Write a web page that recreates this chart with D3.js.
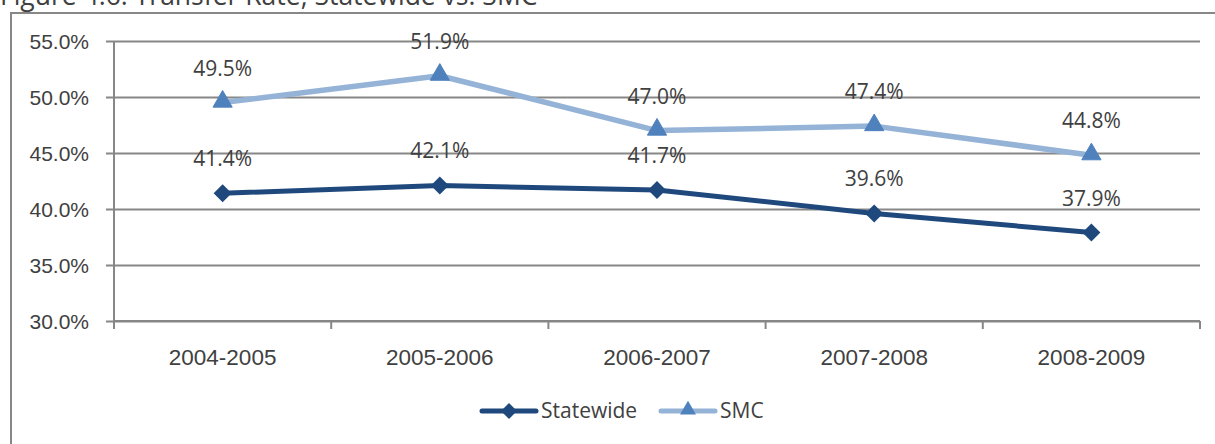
<!DOCTYPE html>
<html>
<head>
<meta charset="utf-8">
<script src="https://cdn.jsdelivr.net/npm/d3@7"></script>
<style>
  html, body { margin: 0; padding: 0; background: #fff; }
  svg { display: block; font-family: "Open Sans", "Noto Sans", sans-serif; }
  text { fill: #404040; }
</style>
</head>
<body>
<svg id="chart" width="1215" height="444"></svg>
<script>
// Transfer rate by academic year
const years = ["2004-2005", "2005-2006", "2006-2007", "2007-2008", "2008-2009"];
const statewide = [41.4, 42.1, 41.7, 39.6, 37.9];
const smc = [49.5, 51.9, 47.0, 47.4, 44.8];
const yTicks = [30, 35, 40, 45, 50, 55];
const titleText = "Figure 4.6: Transfer Rate, Statewide vs. SMC";

const svg = d3.select("#chart");
const W = 1215, H = 444;
const plot = { left: 114, right: 1200, top: 41, bottom: 321 };

const x = d3.scaleBand().domain(years).range([plot.left, plot.right]);
const y = d3.scaleLinear().domain([30, 55]).range([plot.bottom, plot.top]);
const cx = d => x(d) + x.bandwidth() / 2;

const gridColor = "#878787";
const darkBlue = "#1f497d";
const lightLine = "#95b3d7";
const triFill = "#4f81bd";
const fontSize = 21;

// Title (sits partly above the frame)
svg.append("text")
  .attr("x", 0).attr("y", 5)
  .attr("font-size", 26.5)
  .text(titleText);

// Chart frame
svg.append("path")
  .attr("d", `M11,${H} V13 H${W}`)
  .attr("fill", "none")
  .attr("stroke", gridColor)
  .attr("stroke-width", 2);

// Horizontal gridlines with outer tick marks and labels
const yAxis = d3.axisLeft(y)
  .tickValues(yTicks)
  .tickSize(-(plot.right - plot.left) - 8)
  .tickFormat(d => d3.format(".1f")(d) + "%");

const gy = svg.append("g")
  .attr("transform", `translate(${plot.left - 8},0)`)
  .call(yAxis);
gy.select(".domain").remove();
gy.selectAll(".tick line")
  .attr("x1", 0)
  .attr("x2", plot.right - plot.left + 8)
  .attr("stroke", gridColor)
  .attr("stroke-width", 2);
gy.selectAll(".tick text")
  .attr("x", -17)
  .attr("dy", "0.35em")
  .attr("font-size", fontSize)
  .attr("fill", "#404040");

// Vertical value axis line
svg.append("line")
  .attr("x1", plot.left).attr("x2", plot.left)
  .attr("y1", plot.top).attr("y2", plot.bottom + 8)
  .attr("stroke", gridColor).attr("stroke-width", 2);

// Category axis with boundary ticks
const xAxis = d3.axisBottom(x).tickSize(0).tickPadding(0);
const gx = svg.append("g")
  .attr("transform", `translate(0,${plot.bottom})`)
  .call(xAxis);
gx.select(".domain").remove();
gx.selectAll(".tick text")
  .attr("y", 44)
  .attr("dy", 0)
  .attr("font-size", 22.5)
  .attr("fill", "#404040");

const bounds = years.map(d => x(d)).concat([x(years[years.length - 1]) + x.bandwidth()]);
svg.append("g").selectAll("line")
  .data(bounds)
  .join("line")
  .attr("x1", d => d).attr("x2", d => d)
  .attr("y1", plot.bottom).attr("y2", plot.bottom + 8)
  .attr("stroke", gridColor).attr("stroke-width", 2);
svg.append("line")
  .attr("x1", plot.left).attr("x2", plot.right)
  .attr("y1", plot.bottom).attr("y2", plot.bottom)
  .attr("stroke", gridColor).attr("stroke-width", 2);

// Series lines
const line = d3.line()
  .x((d, i) => cx(years[i]))
  .y(d => y(d));

svg.append("path")
  .datum(smc)
  .attr("d", line)
  .attr("fill", "none")
  .attr("stroke", lightLine)
  .attr("stroke-width", 5.5)
  .attr("stroke-linejoin", "round")
  .attr("stroke-linecap", "round");

svg.append("path")
  .datum(statewide)
  .attr("d", line)
  .attr("fill", "none")
  .attr("stroke", darkBlue)
  .attr("stroke-width", 5)
  .attr("stroke-linejoin", "round")
  .attr("stroke-linecap", "round");

// Markers
const triangle = d3.symbol().type(d3.symbolTriangle).size(160);
const diamond = "M0,-9 L9,0 L0,9 L-9,0 Z";

svg.append("g").selectAll("path")
  .data(smc)
  .join("path")
  .attr("transform", (d, i) => `translate(${cx(years[i])},${y(d) - 1})`)
  .attr("d", triangle)
  .attr("fill", triFill)
  .attr("stroke", triFill)
  .attr("stroke-width", 1);

svg.append("g").selectAll("path")
  .data(statewide)
  .join("path")
  .attr("transform", (d, i) => `translate(${cx(years[i])},${y(d)})`)
  .attr("d", diamond)
  .attr("fill", darkBlue);

// Data labels
const fmt = d => d3.format(".1f")(d) + "%";
[smc, statewide].forEach(series => {
  svg.append("g").selectAll("text")
    .data(series)
    .join("text")
    .attr("x", (d, i) => cx(years[i]))
    .attr("y", d => y(d) - 27)
    .attr("text-anchor", "middle")
    .attr("font-size", fontSize)
    .text(fmt);
});

// Legend
const legend = svg.append("g").attr("transform", "translate(0,411)");
const legendItems = [
  { name: "Statewide", x0: 482, color: darkBlue, marker: "diamond" },
  { name: "SMC", x0: 661, color: lightLine, marker: "triangle" }
];
legendItems.forEach(item => {
  legend.append("line")
    .attr("x1", item.x0).attr("x2", item.x0 + 54)
    .attr("y1", 0).attr("y2", 0)
    .attr("stroke", item.color)
    .attr("stroke-width", 5)
    .attr("stroke-linecap", "round");
  const m = legend.append("path")
    .attr("transform", `translate(${item.x0 + 27},${item.marker === "triangle" ? -1 : 0})`);
  if (item.marker === "diamond") {
    m.attr("d", "M0,-8 L8,0 L0,8 L-8,0 Z").attr("fill", darkBlue);
  } else {
    m.attr("d", d3.symbol().type(d3.symbolTriangle).size(110)).attr("fill", triFill);
  }
  legend.append("text")
    .attr("x", item.x0 + 59)
    .attr("y", 0)
    .attr("dy", "0.35em")
    .attr("font-size", fontSize)
    .text(item.name);
});
</script>
</body>
</html>
